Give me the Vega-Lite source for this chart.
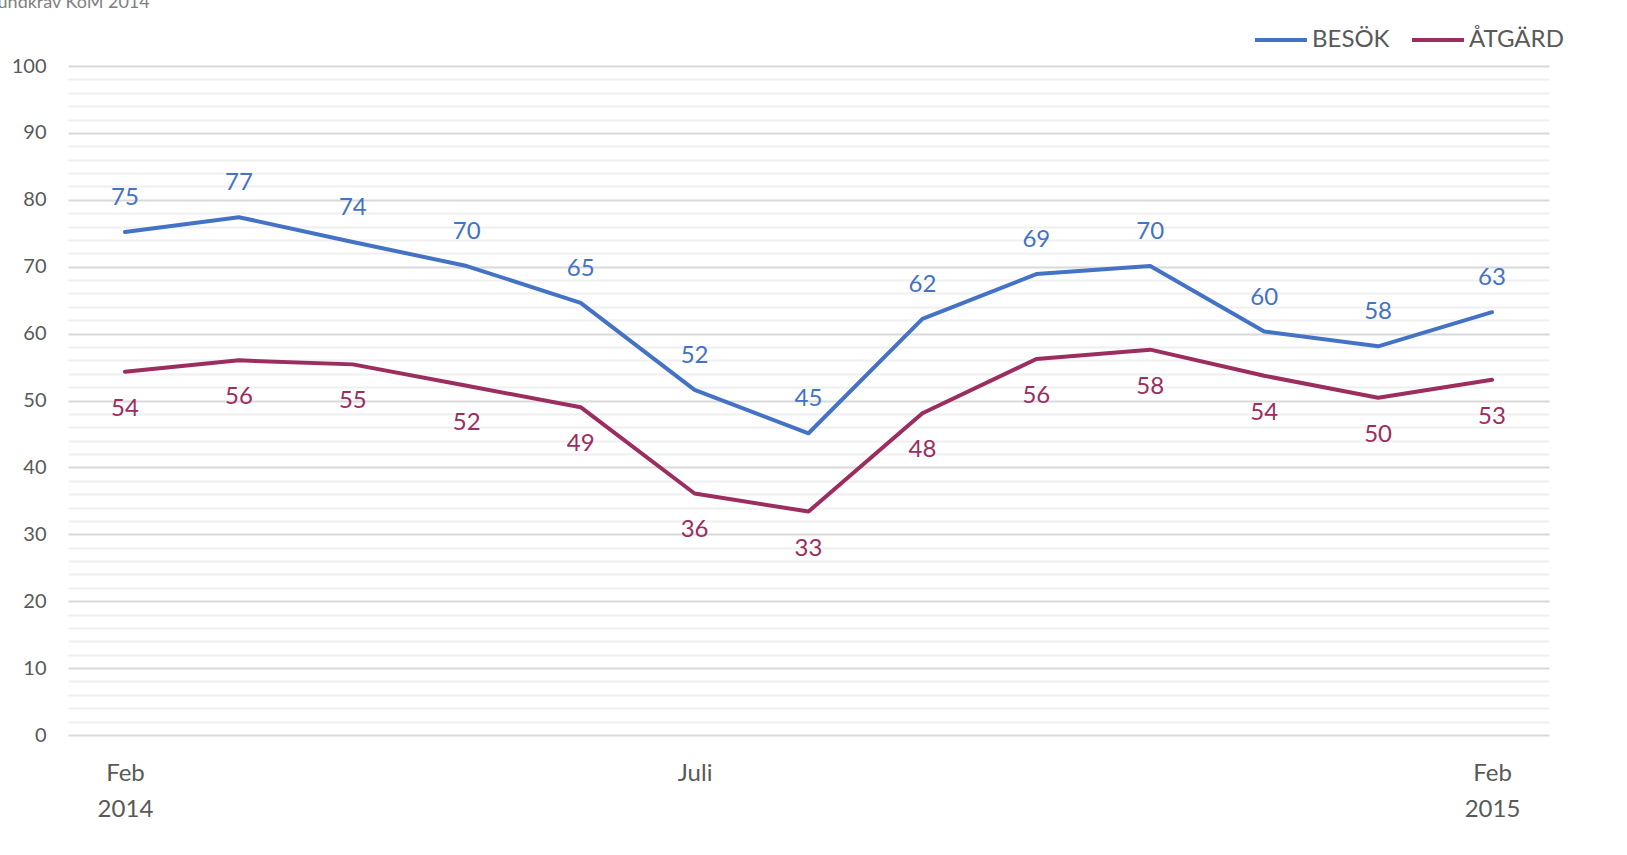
{
  "$schema": "https://vega.github.io/schema/vega-lite/v6.json",
  "width": 1481,
  "height": 669,
  "autosize": {"type": "none"},
  "padding": {"left": 68, "top": 66, "right": 78, "bottom": 120},
  "background": "white",
  "title": {
    "text": "Grundkrav KoM 2014",
    "anchor": "start",
    "frame": "group",
    "dx": -90,
    "dy": 0,
    "offset": 0,
    "fontSize": 18,
    "font": "Lato",
    "fontWeight": "normal",
    "color": "#808080"
  },
  "config": {
    "view": {"stroke": null},
    "font": "Lato"
  },
  "data": {
    "values": [
      {"month": "Feb 2014", "series": "BESÖK", "value": 75.2},
      {"month": "Mars 2014", "series": "BESÖK", "value": 77.4},
      {"month": "April 2014", "series": "BESÖK", "value": 73.7},
      {"month": "Maj 2014", "series": "BESÖK", "value": 70.1},
      {"month": "Juni 2014", "series": "BESÖK", "value": 64.6},
      {"month": "Juli 2014", "series": "BESÖK", "value": 51.6},
      {"month": "Aug 2014", "series": "BESÖK", "value": 45.1},
      {"month": "Sep 2014", "series": "BESÖK", "value": 62.2},
      {"month": "Okt 2014", "series": "BESÖK", "value": 68.9},
      {"month": "Nov 2014", "series": "BESÖK", "value": 70.1},
      {"month": "Dec 2014", "series": "BESÖK", "value": 60.3},
      {"month": "Jan 2015", "series": "BESÖK", "value": 58.1},
      {"month": "Feb 2015", "series": "BESÖK", "value": 63.2},
      {"month": "Feb 2014", "series": "ÅTGÄRD", "value": 54.3},
      {"month": "Mars 2014", "series": "ÅTGÄRD", "value": 56.0},
      {"month": "April 2014", "series": "ÅTGÄRD", "value": 55.4},
      {"month": "Maj 2014", "series": "ÅTGÄRD", "value": 52.2},
      {"month": "Juni 2014", "series": "ÅTGÄRD", "value": 49.0},
      {"month": "Juli 2014", "series": "ÅTGÄRD", "value": 36.1},
      {"month": "Aug 2014", "series": "ÅTGÄRD", "value": 33.4},
      {"month": "Sep 2014", "series": "ÅTGÄRD", "value": 48.1},
      {"month": "Okt 2014", "series": "ÅTGÄRD", "value": 56.2},
      {"month": "Nov 2014", "series": "ÅTGÄRD", "value": 57.6},
      {"month": "Dec 2014", "series": "ÅTGÄRD", "value": 53.7},
      {"month": "Jan 2015", "series": "ÅTGÄRD", "value": 50.4},
      {"month": "Feb 2015", "series": "ÅTGÄRD", "value": 53.1}
    ]
  },
  "encoding": {
    "x": {
      "field": "month",
      "type": "nominal",
      "sort": null,
      "scale": {"type": "point", "padding": 0.5},
      "axis": {
        "title": null,
        "domain": false,
        "ticks": false,
        "grid": false,
        "labelAngle": 0,
        "labelFontSize": 24,
        "labelColor": "#595959",
        "labelPadding": 26,
        "labelLineHeight": 36,
        "labelBaseline": "top",
        "labelExpr": "datum.value == 'Feb 2014' ? ['Feb', '2014'] : datum.value == 'Juli 2014' ? 'Juli' : datum.value == 'Feb 2015' ? ['Feb', '2015'] : ''"
      }
    },
    "y": {
      "field": "value",
      "type": "quantitative",
      "scale": {"domain": [0, 100], "nice": false}
    }
  },
  "layer": [
    {
      "mark": {"type": "line", "strokeWidth": 4, "strokeCap": "round", "strokeJoin": "round"},
      "encoding": {
        "y": {
          "field": "value",
          "type": "quantitative",
          "axis": {
            "orient": "left",
            "title": null,
            "values": [2,4,6,8,12,14,16,18,22,24,26,28,32,34,36,38,42,44,46,48,52,54,56,58,62,64,66,68,72,74,76,78,82,84,86,88,92,94,96,98],
            "labels": false,
            "ticks": false,
            "domain": false,
            "grid": true,
            "gridColor": "#efefef",
            "gridWidth": 2
          }
        },
        "color": {
          "field": "series",
          "type": "nominal",
          "scale": {"domain": ["BESÖK", "ÅTGÄRD"], "range": ["#4472C4", "#9B2D5F"]},
          "legend": {
            "title": null,
            "orient": "none",
            "direction": "horizontal",
            "legendX": 1185,
            "legendY": -54,
            "symbolType": "stroke",
            "symbolSize": 2700,
            "symbolStrokeWidth": 4,
            "labelFontSize": 24,
            "labelColor": "#595959",
            "labelOffset": 3,
            "columnPadding": 14,
            "labelLimit": 200
          }
        }
      }
    },
    {
      "transform": [{"filter": "datum.series == 'BESÖK'"}],
      "mark": {"type": "text", "dy": -34, "fontSize": 24, "color": "#4472C4"},
      "encoding": {
        "y": {
          "field": "value",
          "type": "quantitative",
          "axis": {
            "orient": "left",
            "title": null,
            "values": [0,10,20,30,40,50,60,70,80,90,100],
            "labelFontSize": 20,
            "labelColor": "#595959",
            "labelPadding": 22,
            "ticks": false,
            "domain": false,
            "grid": true,
            "gridColor": "#d9d9d9",
            "gridWidth": 2
          }
        },
        "text": {"field": "value", "type": "quantitative", "format": ".0f"}
      }
    },
    {
      "transform": [{"filter": "datum.series == 'ÅTGÄRD'"}],
      "mark": {"type": "text", "dy": 37, "fontSize": 24, "color": "#9B2D5F"},
      "encoding": {
        "y": {"field": "value", "type": "quantitative", "axis": null},
        "text": {"field": "value", "type": "quantitative", "format": ".0f"}
      }
    }
  ],
  "resolve": {"axis": {"y": "independent"}}
}
